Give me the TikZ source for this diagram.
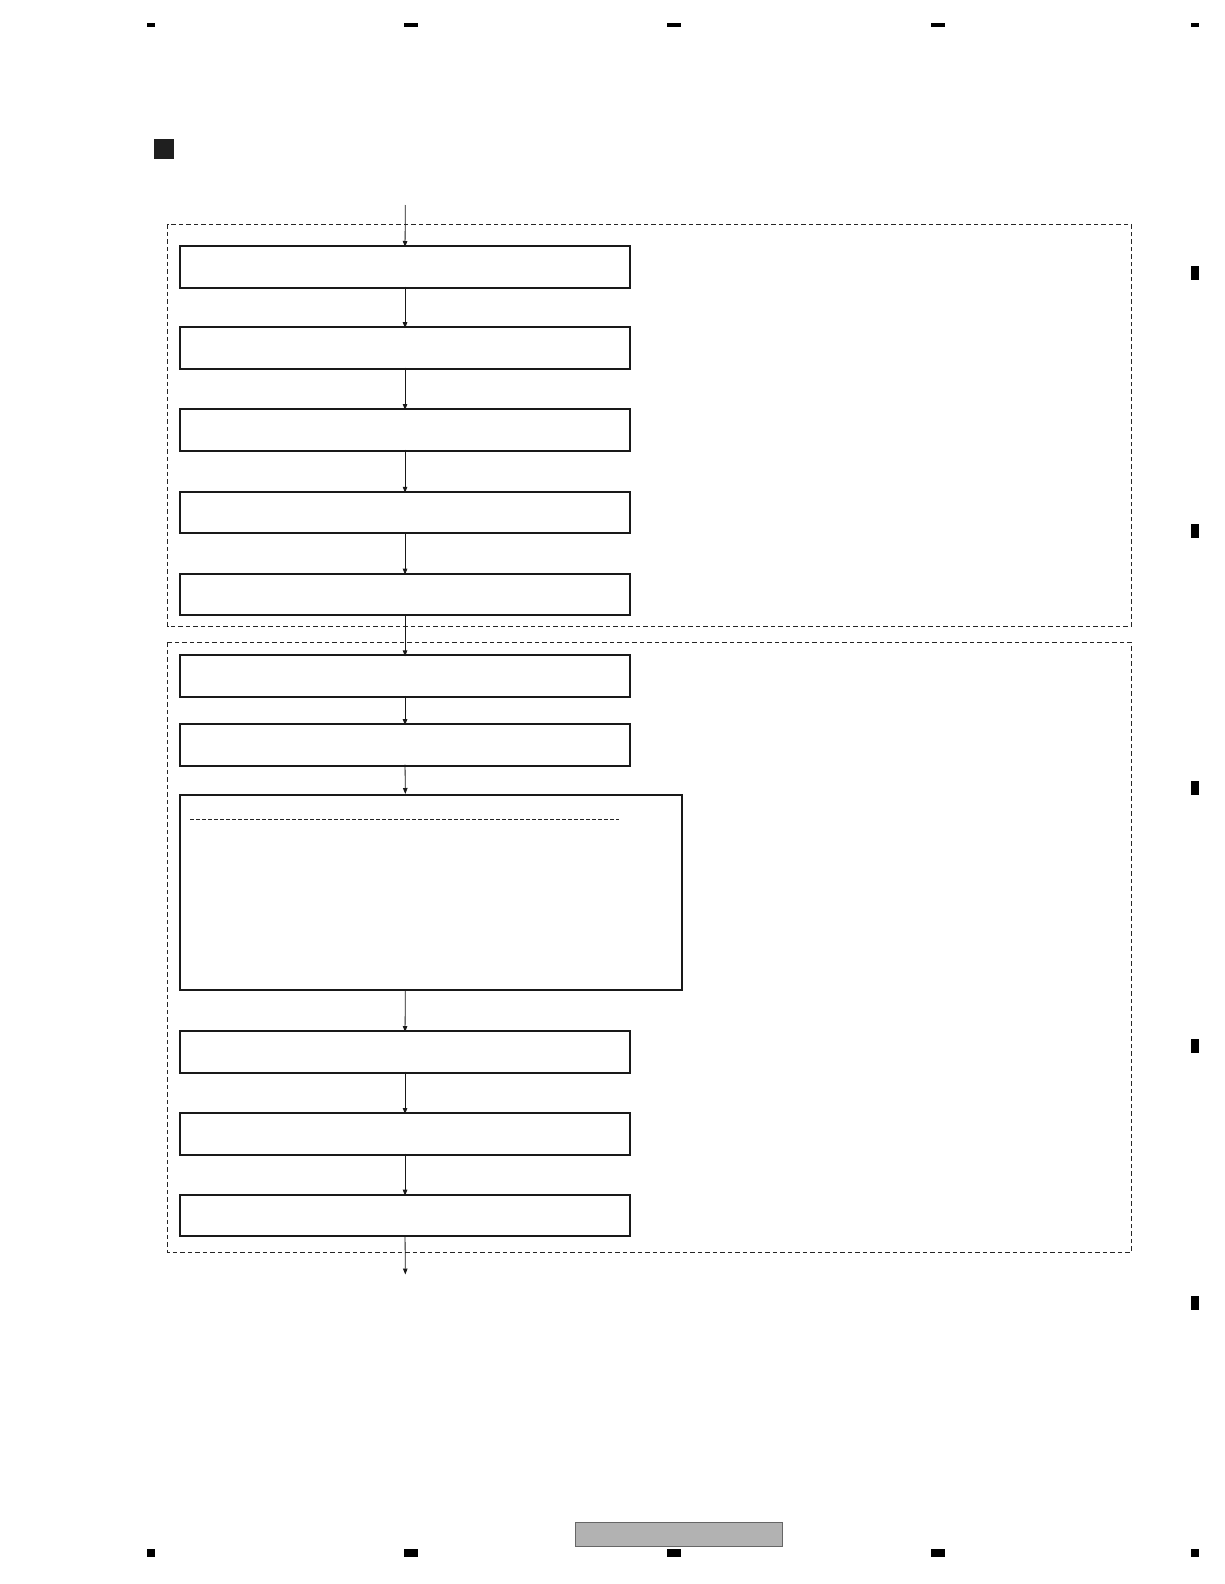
\documentclass[tikz,border=0pt]{standalone}
\usetikzlibrary{arrows.meta}
\begin{document}
\begin{tikzpicture}[x=1pt,y=-1pt,
  stepbox/.style={draw=black!90,line width=2pt,fill=white,inner sep=0pt,outer sep=0pt,anchor=north west,minimum width=449.5pt,minimum height=41.5pt},
  groupbox/.style={draw=black!85,line width=0.8pt,dash pattern=on 4.5pt off 3pt},
  flow/.style={draw=black!90,line width=0.8pt,-{Triangle[length=6pt,width=4.5pt]}}]
\useasboundingbox[fill=white] (0,0) rectangle (1224,1584);
% registration marks
\fill (147,23.5) rectangle (155,27.5);
\foreach \x in {411,673.6,938} \fill (\x-7,23.5) rectangle (\x+7,27.5);
\fill (1191,23.5) rectangle (1199,27.5);
\fill (147,1549) rectangle (155,1557);
\foreach \x in {411,673.6,938} \fill (\x-7,1549) rectangle (\x+7,1557);
\fill (1191,1549) rectangle (1199,1557);
\foreach \y in {273,530.5,788,1045.5,1303} \fill (1191,\y-7) rectangle (1199,\y+7);
% title square
\fill[black!88] (154,139) rectangle (174,159);
% grey footer
\draw[fill=black!30,draw=black!60,line width=0.8pt] (575,1522.3) rectangle (782.3,1546);
% group boxes
\draw[groupbox] (167.8,224.3) rectangle (1131,626.2);
\draw[groupbox] (167.8,642.3) rectangle (1131,1252.3);
% step boxes
\node[stepbox] (b1) at (180.3,246) {};
\node[stepbox] (b2) at (180.3,327.2) {};
\node[stepbox] (b3) at (180.3,409) {};
\node[stepbox] (b4) at (180.3,491.8) {};
\node[stepbox] (b5) at (180.3,573.6) {};
\node[stepbox] (b6) at (180.3,655.4) {};
\node[stepbox] (b7) at (180.3,724.1) {};
\node[stepbox,minimum width=501.4pt,minimum height=194.7pt] (b8) at (180.3,795) {};
\node[stepbox] (b9) at (180.3,1031) {};
\node[stepbox] (b10) at (180.3,1113) {};
\node[stepbox] (b11) at (180.3,1194.7) {};
% dashed separator in big box
\coordinate (s1) at (190,819.3);
\coordinate (s2) at (619,819.3);
\draw[black!85,line width=0.7pt,dash pattern=on 3.5pt off 2.5pt] (s1) -- (s2);
% connectors
\coordinate (in) at (405.3,205);
\coordinate (out) at (405.3,1274.5);
\coordinate (t8) at (405.3,794);
\coordinate (u8) at (405.3,990.7);
\draw[flow] (in) -- ([yshift=-1pt]b1.north);
\draw[flow] ([yshift=1pt]b1.south) -- ([yshift=-1pt]b2.north);
\draw[flow] ([yshift=1pt]b2.south) -- ([yshift=-1pt]b3.north);
\draw[flow] ([yshift=1pt]b3.south) -- ([yshift=-1pt]b4.north);
\draw[flow] ([yshift=1pt]b4.south) -- ([yshift=-1pt]b5.north);
\draw[flow] ([yshift=1pt]b5.south) -- ([yshift=-1pt]b6.north);
\draw[flow] ([yshift=1pt]b6.south) -- ([yshift=-1pt]b7.north);
\draw[flow] ([yshift=1pt]b7.south) -- (t8);
\draw[flow] (u8) -- ([yshift=-1pt]b9.north);
\draw[flow] ([yshift=1pt]b9.south) -- ([yshift=-1pt]b10.north);
\draw[flow] ([yshift=1pt]b10.south) -- ([yshift=-1pt]b11.north);
\draw[flow] ([yshift=1pt]b11.south) -- (out);
\end{tikzpicture}
\end{document}
